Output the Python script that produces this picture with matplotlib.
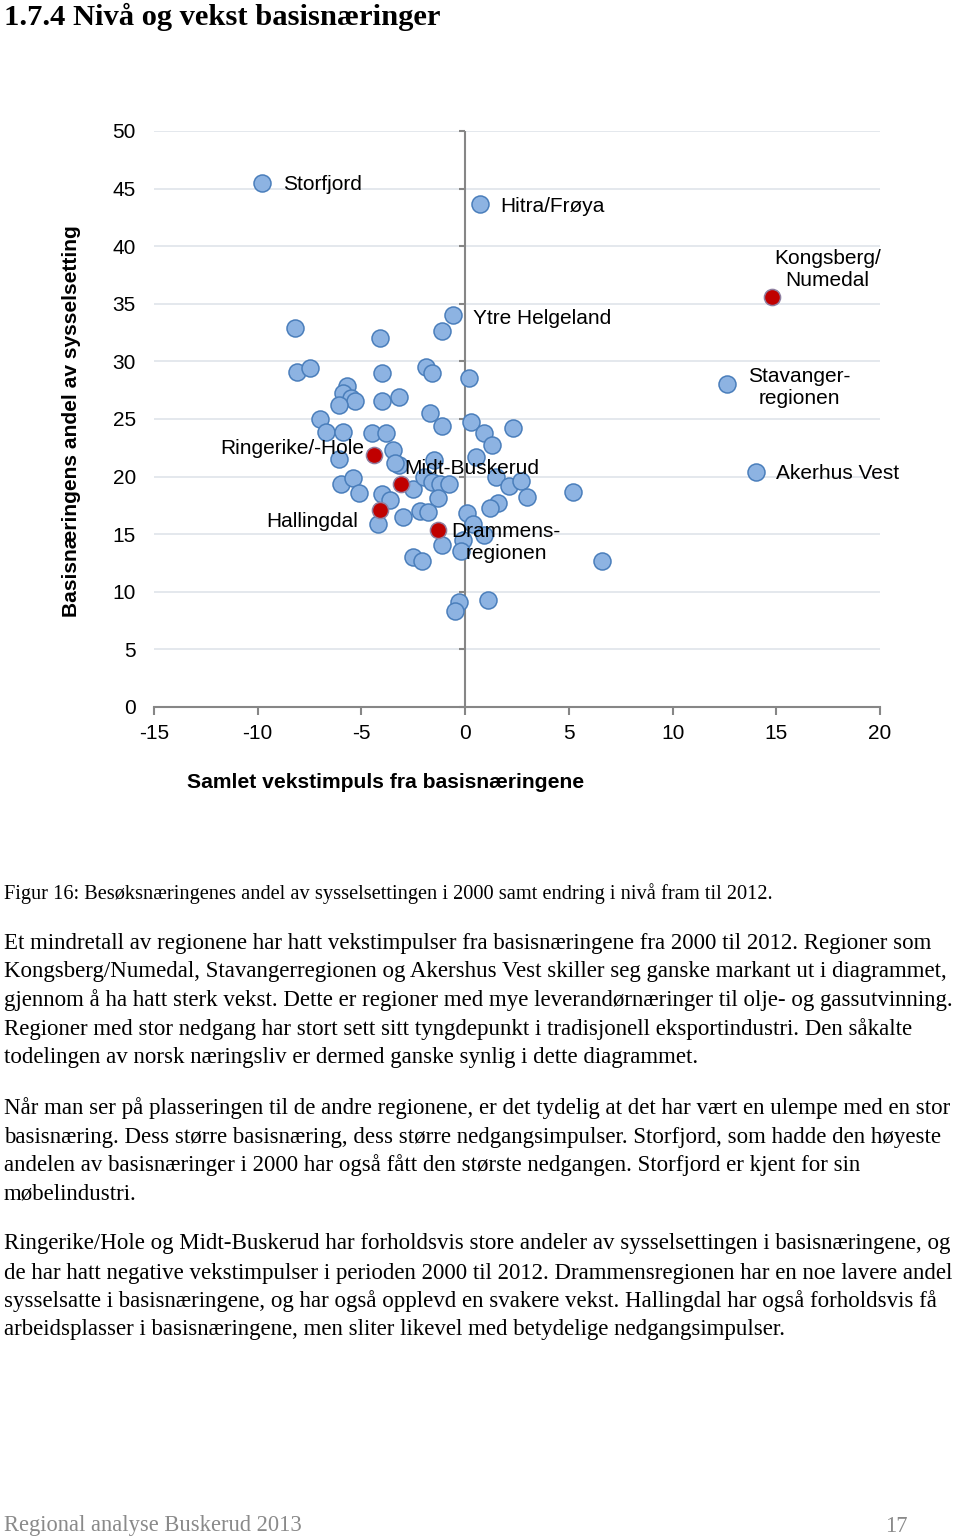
import matplotlib
matplotlib.use("Agg")
import matplotlib.pyplot as plt
from matplotlib.markers import TICKLEFT
import numpy as np

# ---------------- data ----------------
# unlabelled regions (x: samlet vekstimpuls, y: basisnæringens andel)
other_x = [-8.2, -4.1, -1.1, -8.1, -7.5, -4.0, -1.9, -1.6, 0.2, -5.7, -5.9, -5.5,
           -5.3, -6.1, -4.0, -3.2, -7.0, -1.7, -1.1, 0.3, 2.3, 0.9, 1.3, -6.7,
           -5.9, -4.5, -3.8, -6.1, -3.5, -3.2, -3.4, -1.5, 0.5, -6.0, -5.4, -5.1,
           -4.0, -3.6, -2.5, -2.0, -1.6, -1.2, -0.8, 1.5, 2.1, 2.7, 3.0, 5.2,
           -1.3, 1.6, 1.2, -4.2, -3.0, -2.2, -1.8, 0.1, 0.4, -1.1, -0.1, 0.9,
           -0.2, -2.5, -2.1, 6.6, -0.3, -0.5, 1.1]
other_y = [32.9, 32.0, 32.6, 29.1, 29.4, 29.0, 29.5, 29.0, 28.6, 27.9, 27.3, 26.8,
           26.6, 26.2, 26.6, 26.9, 25.0, 25.5, 24.4, 24.7, 24.2, 23.8, 22.7, 23.9,
           23.9, 23.8, 23.8, 21.5, 22.3, 21.0, 21.2, 21.4, 21.7, 19.4, 19.9, 18.6,
           18.5, 18.0, 18.9, 20.0, 19.5, 19.4, 19.4, 20.0, 19.2, 19.6, 18.2, 18.7,
           18.1, 17.7, 17.3, 15.9, 16.5, 17.0, 16.9, 16.8, 15.9, 14.1, 14.5, 14.9,
           13.5, 13.0, 12.7, 12.7, 9.1, 8.3, 9.3]

# labelled regions
lab_names = ["Storfjord", "Hitra/Frøya", "Ytre Helgeland", "Stavanger-\nregionen",
             "Akerhus Vest", "Kongsberg/\nNumedal", "Ringerike/-Hole",
             "Midt-Buskerud", "Hallingdal", "Drammens-\nregionen"]
lab_x = [-9.8, 0.7, -0.6, 12.6, 14.0, 14.8, -4.4, -3.1, -4.1, -1.3]
lab_y = [45.5, 43.7, 34.0, 28.0, 20.4, 35.6, 21.9, 19.4, 17.1, 15.4]
lab_buskerud = [False, False, False, False, False, True, True, True, True, True]

x_ticks = [-15, -10, -5, 0, 5, 10, 15, 20]
y_ticks = [0, 5, 10, 15, 20, 25, 30, 35, 40, 45, 50]

title = "1.7.4 Nivå og vekst basisnæringer"
y_label = "Basisnæringens andel av sysselsetting"
x_label = "Samlet vekstimpuls fra basisnæringene"
caption = ("Figur 16: Besøksnæringenes andel av sysselsettingen i 2000 samt "
           "endring i nivå fram til 2012.")
paragraphs = [
    ["Et mindretall av regionene har hatt vekstimpulser fra basisnæringene fra 2000 til 2012. Regioner som",
     "Kongsberg/Numedal, Stavangerregionen og Akershus Vest skiller seg ganske markant ut i diagrammet,",
     "gjennom å ha hatt sterk vekst. Dette er regioner med mye leverandørnæringer til olje- og gassutvinning.",
     "Regioner med stor nedgang har stort sett sitt tyngdepunkt i tradisjonell eksportindustri. Den såkalte",
     "todelingen av norsk næringsliv er dermed ganske synlig i dette diagrammet."],
    ["Når man ser på plasseringen til de andre regionene, er det tydelig at det har vært en ulempe med en stor",
     "basisnæring. Dess større basisnæring, dess større nedgangsimpulser. Storfjord, som hadde den høyeste",
     "andelen av basisnæringer i 2000 har også fått den største nedgangen. Storfjord er kjent for sin",
     "møbelindustri."],
    ["Ringerike/Hole og Midt-Buskerud har forholdsvis store andeler av sysselsettingen i basisnæringene, og",
     "de har hatt negative vekstimpulser i perioden 2000 til 2012. Drammensregionen har en noe lavere andel",
     "sysselsatte i basisnæringene, og har også opplevd en svakere vekst. Hallingdal har også forholdsvis få",
     "arbeidsplasser i basisnæringene, men sliter likevel med betydelige nedgangsimpulser."],
]
footer = "Regional analyse Buskerud 2013"
page_no = "17"

# ---------------- figure ----------------
W, H = 960, 1536
fig = plt.figure(figsize=(W / 100, H / 100), dpi=100)
fig.patch.set_facecolor("white")
renderer = fig.canvas.get_renderer()

SANS = ["Liberation Sans", "DejaVu Sans"]
SERIF = ["Liberation Serif", "DejaVu Serif"]
DY = 2  # small vertical correction for text placement (pixels)


def fx(px):
    return px / W


def fy(py):
    return 1 - (py + DY) / H


def fit_size(s, target, family, weight="normal"):
    t = fig.text(0, 0, s, fontsize=10, family=family, weight=weight)
    w = t.get_window_extent(renderer).width
    t.remove()
    return 10 * target / w


axis_col = "#868686"
ax = fig.add_axes([154 / W, 1 - 707 / H, (880 - 154) / W, (707 - 131) / H])
ax.set_xlim(-15, 20)
ax.set_ylim(0, 50)
ax.set_xticks(x_ticks)
ax.set_yticks(y_ticks)
ax.set_xticklabels([str(v) for v in x_ticks], family=SANS, fontsize=15)
ax.set_yticklabels([str(v) for v in y_ticks], family=SANS, fontsize=15)
for side in ["top", "right", "left"]:
    ax.spines[side].set_visible(False)
ax.spines["bottom"].set_color(axis_col)
ax.spines["bottom"].set_linewidth(1.5)
ax.tick_params(axis="x", direction="out", length=6, width=1.5, color=axis_col,
               pad=6.5)
ax.tick_params(axis="y", length=0, pad=13)
ax.yaxis.grid(True, color="#DCE2E8", lw=1.1, zorder=0)
ax.set_axisbelow(True)

# vertical axis crossing at x=0
ax.axvline(0, color=axis_col, lw=1.5, zorder=1)
ax.plot([0] * len(y_ticks), y_ticks, ls="none", marker=TICKLEFT, ms=4.5,
        mew=1.5, color=axis_col, zorder=1, clip_on=False)

blue_fc, blue_ec = "#8DB3E2", "#4A7EBB"
red_fc, red_ec = "#C00000", "#8F7FA0"

bx = other_x + [x for x, r in zip(lab_x, lab_buskerud) if not r]
by = other_y + [y for y, r in zip(lab_y, lab_buskerud) if not r]
ax.scatter(bx, by, s=150, c=blue_fc, edgecolors=blue_ec, linewidths=1.1,
           zorder=3)
rx = [x for x, r in zip(lab_x, lab_buskerud) if r]
ry = [y for y, r in zip(lab_y, lab_buskerud) if r]
ax.scatter(rx, ry, s=135, c=red_fc, edgecolors=red_ec, linewidths=1.1,
           zorder=4)

# label offsets (pixels) and alignment
lab_style = {
    "Storfjord": ((21, -2), "left"),
    "Hitra/Frøya": ((21, -3), "left"),
    "Ytre Helgeland": ((20, -3), "left"),
    "Stavanger-\nregionen": ((73, -3), "center"),
    "Akerhus Vest": ((20, -2), "left"),
    "Kongsberg/\nNumedal": ((55, 27), "center"),
    "Ringerike/-Hole": ((-10, 6), "right"),
    "Midt-Buskerud": ((3, 15), "left"),
    "Hallingdal": ((-22, -11), "right"),
    "Drammens-\nregionen": ((68, -13), "center"),
}
for name, x, y in zip(lab_names, lab_x, lab_y):
    off, ha = lab_style[name]
    ax.annotate(name, xy=(x, y), xytext=off, textcoords="offset pixels",
                ha=ha, va="center", multialignment="center", fontsize=15,
                family=SANS, zorder=6, linespacing=1.2)

# axis titles
fs_xl = fit_size(x_label, 399, SANS, "bold")
fig.text(fx(386), fy(780), x_label, ha="center", va="center", fontsize=fs_xl,
         family=SANS, weight="bold")
fs_yl = fit_size(y_label, 393, SANS, "bold")
fig.text(fx(72), 1 - 421 / H, y_label, ha="center", va="center", rotation=90,
         fontsize=fs_yl, family=SANS, weight="bold")

# page title
fs_t = fit_size(title, 437, SERIF, "bold")
fig.text(fx(4), fy(15), title, ha="left", va="center", fontsize=fs_t,
         family=SERIF, weight="bold")

# caption
fs_c = fit_size(caption, 771, SERIF)
fig.text(fx(4), fy(892), caption, ha="left", va="center", fontsize=fs_c,
         family=SERIF)

# body paragraphs
ref_widths = [932, 941, 946, 915, 954, 934, 934, 937, 952, 925]
ref_lines = [paragraphs[0][0], paragraphs[0][1], paragraphs[0][2], paragraphs[0][3],
             paragraphs[1][0], paragraphs[1][1], paragraphs[1][2],
             paragraphs[2][0], paragraphs[2][1], paragraphs[2][2]]
sizes = [fit_size(s, w, SERIF) for s, w in zip(ref_lines, ref_widths)]
fs_b = float(np.median(sizes))
line_y = [[941, 970, 998, 1027, 1056],
          [1106, 1135, 1163, 1192],
          [1242, 1271, 1299, 1328]]
for lines, ys in zip(paragraphs, line_y):
    for s, yy in zip(lines, ys):
        fig.text(fx(4), fy(yy), s, ha="left", va="center", fontsize=fs_b,
                 family=SERIF)

# footer
fs_f = fit_size(footer, 298, SERIF)
fig.text(fx(4), fy(1524), footer, ha="left", va="center", fontsize=fs_f,
         family=SERIF, color="#8A8A8A")
fig.text(fx(908), fy(1524), page_no, ha="right", va="center", fontsize=fs_f,
         family=SERIF, color="#8A8A8A")

fig.savefig("out.png", dpi=100, facecolor="white")
